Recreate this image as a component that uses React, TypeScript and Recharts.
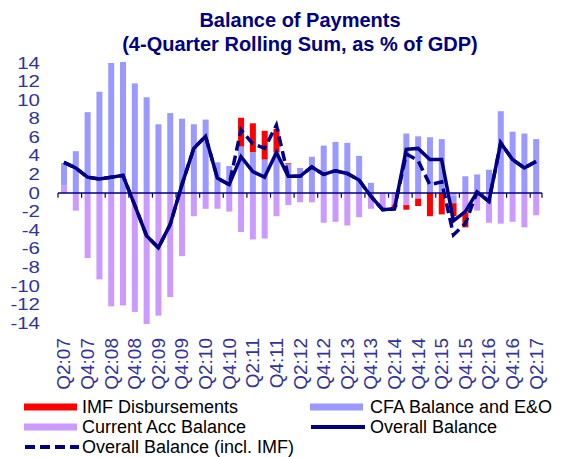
import React from 'react';
import { ComposedChart, Bar, Line, XAxis, YAxis, ReferenceLine } from 'recharts';

// ── Data ────────────────────────────────────────────────
const quarters = [
  'Q2:07', 'Q3:07', 'Q4:07', 'Q1:08', 'Q2:08', 'Q3:08', 'Q4:08', 'Q1:09', 'Q2:09', 'Q3:09',
  'Q4:09', 'Q1:10', 'Q2:10', 'Q3:10', 'Q4:10', 'Q1:11', 'Q2:11', 'Q3:11', 'Q4:11', 'Q1:12',
  'Q2:12', 'Q3:12', 'Q4:12', 'Q1:13', 'Q2:13', 'Q3:13', 'Q4:13', 'Q1:14', 'Q2:14', 'Q3:14',
  'Q4:14', 'Q1:15', 'Q2:15', 'Q3:15', 'Q4:15', 'Q1:16', 'Q2:16', 'Q3:16', 'Q4:16', 'Q1:17',
  'Q2:17',
];

const imfDisbursements = [
  0, 0, 0, 0, 0, 0, 0, 0, 0, 0,
  0, 0, 0, 0, 0, 3.1, 3.1, 3.1, 2.5, 0.1,
  0, 0, 0, 0, 0, 0, 0, 0, -0.2, -0.5,
  -0.8, -2.5, -2.3, -1.4, -1.6, 0, 0, 0, 0, 0,
  0,
];

const cfaBalance = [
  2.4, 4.5, 8.7, 10.9, 14.0, 14.1, 11.8, 10.3, 7.4, 8.6,
  8.0, 7.4, 7.9, 3.3, 2.9, 5.0, 4.4, 3.6, 4.4, 3.1,
  2.7, 3.9, 5.1, 5.5, 5.4, 4.0, 1.1, 0, 0, 6.4,
  6.1, 6.0, 5.8, -0.8, 1.8, 2.0, 2.5, 8.8, 6.6, 6.4,
  5.8,
];

const currentAccBalance = [
  0.8, -1.9, -7.0, -9.3, -12.2, -12.1, -12.8, -14.1, -13.2, -11.2,
  -6.8, -2.5, -1.7, -1.7, -2.0, -4.2, -5.0, -4.9, -2.5, -1.3,
  -1.0, -1.0, -3.2, -3.1, -3.5, -2.6, -1.7, -1.7, -1.3, -1.3,
  -0.6, 0, 0, -0.3, -2.1, -1.9, -3.2, -3.3, -3.1, -3.7,
  -2.4,
];

const overallBalance = [
  3.3, 2.7, 1.7, 1.5, 1.7, 1.9, -1.3, -4.6, -5.9, -3.4,
  0.9, 4.8, 6.1, 1.6, 0.9, 3.9, 2.3, 1.7, 4.35, 1.8,
  1.8, 2.8, 2.0, 2.4, 2.1, 1.4, -0.35, -1.8, -1.7, 4.7,
  4.8, 3.6, 3.6, -3.0, -2.0, 0.1, -0.9, 5.4, 3.6, 2.7,
  3.4,
];

const overallInclImf = [
  3.3, 2.7, 1.7, 1.5, 1.7, 1.9, -1.3, -4.6, -5.9, -3.4,
  0.9, 4.8, 6.1, 1.6, 0.9, 6.8, 5.3, 4.8, 7.3, 1.8,
  1.8, 2.8, 2.0, 2.4, 2.1, 1.4, -0.35, -1.8, -1.7, 4.2,
  3.5, 0.9, 1.2, -4.5, -3.3, 0.1, -0.9, 5.4, 3.6, 2.7,
  3.4,
];

const yTicks = [-14, -12, -10, -8, -6, -4, -2, 0, 2, 4, 6, 8, 10, 12, 14];
const tickQuarters = quarters.filter((_, i) => i % 2 === 0);

const data = quarters.map((q, i) => ({
  q,
  imf: imfDisbursements[i],
  cfa: cfaBalance[i],
  ca: currentAccBalance[i],
  overall: overallBalance[i],
  incl: overallInclImf[i],
}));

// ── Styles ───────────────────────────────────────────────
const NAVY = '#000080';
const AXIS_TEXT = '#333399';
const FONT = '"Liberation Sans", Arial, sans-serif';

const XTick = ({ x, y, payload }: any) => (
  <text
    x={x}
    y={y}
    transform={`rotate(-90 ${x} ${y})`}
    textAnchor="end"
    dominantBaseline="central"
    fill={AXIS_TEXT}
    fontSize={19}
    fontFamily={FONT}
  >
    {payload.value}
  </text>
);

// y labels in the original are short and wide
const YTick = ({ x, y, payload, anchor }: any) => (
  <text
    transform={`translate(${x} ${y}) scale(1.28 1)`}
    textAnchor={anchor}
    dominantBaseline="central"
    fill={AXIS_TEXT}
    fontSize={16}
    fontFamily={FONT}
  >
    {payload.value}
  </text>
);

const legendRows = [
  { label: 'IMF Disbursements', kind: 'rect', color: '#FF0000', left: 24, textLeft: 82, cy: 407 },
  { label: 'CFA Balance and E&O', kind: 'rect', color: '#9999FF', left: 310, textLeft: 370, cy: 407 },
  { label: 'Current Acc Balance', kind: 'rect', color: '#CC99FF', left: 24, textLeft: 82, cy: 427 },
  { label: 'Overall Balance', kind: 'line', color: NAVY, left: 310, textLeft: 370, cy: 427 },
  { label: 'Overall Balance (incl. IMF)', kind: 'dash', color: NAVY, left: 24, textLeft: 82, cy: 447 },
];

function LegendItem({ item }: { item: (typeof legendRows)[number] }) {
  return (
    <>
      <svg
        width={56}
        height={12}
        style={{ position: 'absolute', left: item.left, top: item.cy - 6 }}
      >
        {item.kind === 'rect' ? (
          <rect x={0} y={2.5} width={53} height={7} fill={item.color} />
        ) : (
          <line
            x1={1}
            y1={6}
            x2={55}
            y2={6}
            stroke={item.color}
            strokeWidth={4}
            strokeDasharray={item.kind === 'dash' ? '10 5' : undefined}
          />
        )}
      </svg>
      <div
        style={{
          position: 'absolute',
          left: item.textLeft,
          top: item.cy - 10,
          height: 20,
          lineHeight: '20px',
          fontSize: 18,
          fontFamily: FONT,
          color: '#000',
          whiteSpace: 'nowrap',
        }}
      >
        {item.label}
      </div>
    </>
  );
}

// ── Component ────────────────────────────────────────────
export default function App() {
  return (
    <div style={{ position: 'absolute', left: 0, top: 0, width: 588, height: 457, background: '#fff' }}>
      <div
        style={{
          position: 'absolute',
          left: 0,
          width: 600,
          top: 8,
          textAlign: 'center',
          fontFamily: FONT,
          fontWeight: 'bold',
          fontSize: 20,
          lineHeight: '24px',
          color: NAVY,
        }}
      >
        Balance of Payments
        <br />
        (4-Quarter Rolling Sum, as % of GDP)
      </div>

      <ComposedChart
        width={588}
        height={457}
        data={data}
        stackOffset="sign"
        barCategoryGap={0}
        margin={{ top: 62, right: 0, bottom: 63, left: 8 }}
      >
        <XAxis
          xAxisId="cat"
          dataKey="q"
          ticks={tickQuarters}
          interval={0}
          axisLine={false}
          tickLine={false}
          tickSize={0}
          tickMargin={14}
          height={70}
          tick={<XTick />}
        />
        <YAxis
          yAxisId="left"
          domain={[-14, 14]}
          ticks={yTicks}
          interval={0}
          axisLine={false}
          tickLine={false}
          tickSize={0}
          tickMargin={18}
          width={50}
          tick={<YTick anchor="end" />}
        />
        <YAxis
          yAxisId="right"
          orientation="right"
          domain={[-14, 14]}
          ticks={yTicks}
          interval={0}
          axisLine={false}
          tickLine={false}
          tickSize={0}
          tickMargin={16}
          width={46}
          tick={<YTick anchor="start" />}
        />

        <Bar xAxisId="cat" yAxisId="left" dataKey="ca" stackId="bop" fill="#CC99FF" barSize={6} isAnimationActive={false} />
        <Bar xAxisId="cat" yAxisId="left" dataKey="cfa" stackId="bop" fill="#9999FF" barSize={6} isAnimationActive={false} />
        <Bar xAxisId="cat" yAxisId="left" dataKey="imf" stackId="bop" fill="#FF0000" barSize={6} isAnimationActive={false} />

        {/* zero axis with tick marks between categories */}
        <ReferenceLine xAxisId="cat" yAxisId="left" y={0} stroke={NAVY} strokeWidth={1.5} />
        {tickQuarters.map((q) => (
          <ReferenceLine
            key={q}
            xAxisId="cat"
            yAxisId="left"
            position="start"
            segment={[{ x: q, y: 0 }, { x: q, y: -0.5 }]}
            stroke={NAVY}
            strokeWidth={1.2}
          />
        ))}
        <ReferenceLine
          xAxisId="cat"
          yAxisId="left"
          position="end"
          segment={[{ x: 'Q2:17', y: 0 }, { x: 'Q2:17', y: -0.5 }]}
          stroke={NAVY}
          strokeWidth={1.2}
        />

        <Line
          xAxisId="cat"
          yAxisId="left"
          type="linear"
          dataKey="incl"
          stroke={NAVY}
          strokeWidth={3.5}
          strokeDasharray="10 5"
          dot={false}
          isAnimationActive={false}
        />
        <Line
          xAxisId="cat"
          yAxisId="left"
          type="linear"
          dataKey="overall"
          stroke={NAVY}
          strokeWidth={3.5}
          dot={false}
          isAnimationActive={false}
        />
      </ComposedChart>

      {legendRows.map((item) => (
        <LegendItem key={item.label} item={item} />
      ))}
    </div>
  );
}
